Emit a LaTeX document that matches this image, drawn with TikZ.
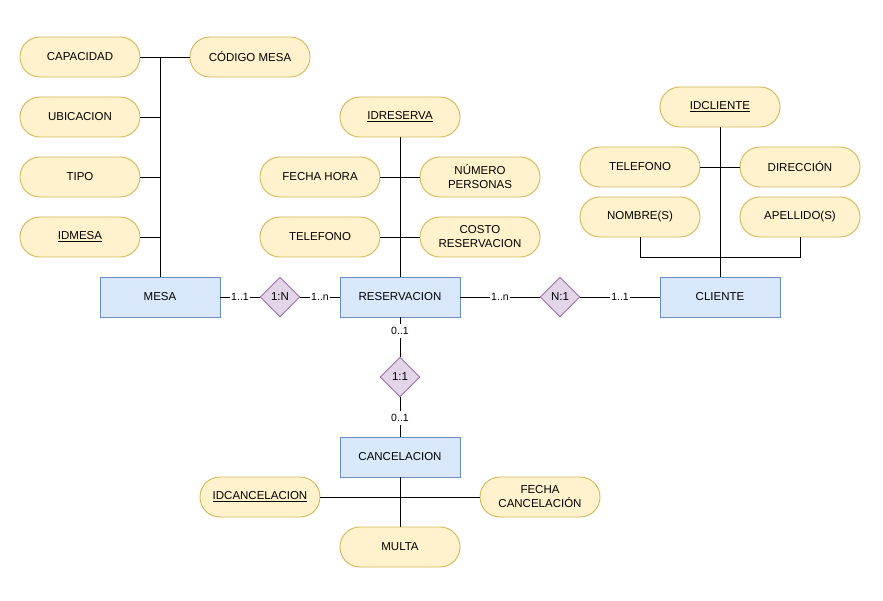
\documentclass[tikz,border=0pt]{standalone}
\usepackage{fontspec}
\setmainfont{Liberation Sans}
\usetikzlibrary{shapes.geometric}
\definecolor{attrfill}{HTML}{FFF2CC}
\definecolor{attrline}{HTML}{D6B656}
\definecolor{entfill}{HTML}{DAE8FC}
\definecolor{entline}{HTML}{6C8EBF}
\definecolor{relfill}{HTML}{E1D5E7}
\definecolor{relline}{HTML}{9673A6}
\tikzset{
  attr/.style={draw=attrline, fill=attrfill, rounded corners=19.9pt, minimum width=120pt, minimum height=40pt, inner sep=0pt, align=center, font=\fontsize{11.5}{14}\selectfont, line width=0.9pt},
  entity/.style={draw=entline, fill=entfill, minimum width=120pt, minimum height=40pt, inner sep=0pt, font=\fontsize{11.5}{14}\selectfont, line width=0.9pt},
  rel/.style={diamond, draw=relline, fill=relfill, minimum width=40pt, minimum height=40pt, inner sep=0pt, aspect=1, font=\fontsize{11.5}{14}\selectfont, line width=0.9pt},
  lbl/.style={fill=white, inner sep=1pt, font=\fontsize{10.5}{12}\selectfont},
  link/.style={draw=black, line width=0.9pt},
}
\begin{document}
\begin{tikzpicture}[x=1pt, y=-1pt]
\useasboundingbox (0,0) rectangle (883,601);
% Entities
\node[entity] (mesa) at (160,297) {MESA};
\node[entity] (reserv) at (400,297) {RESERVACION};
\node[entity] (cliente) at (720,297) {CLIENTE};
\node[entity] (cancel) at (400,457) {CANCELACION};
% Relationships
\node[rel] (r1) at (280,297) {1:N};
\node[rel] (r2) at (560,297) {N:1};
\node[rel] (r3) at (400,377) {1:1};
% MESA attributes
\node[attr] (capacidad) at (80,57) {CAPACIDAD};
\node[attr] (codmesa) at (250,57) {CÓDIGO MESA};
\node[attr] (ubicacion) at (80,117) {UBICACION};
\node[attr] (tipo) at (80,177) {TIPO};
\node[attr] (idmesa) at (80,237) {\underline{IDMESA}};
% RESERVACION attributes
\node[attr] (idreserva) at (400,117) {\underline{IDRESERVA}};
\node[attr] (fechahora) at (320,177) {FECHA HORA};
\node[attr] (numpers) at (480,177) {NÚMERO\\PERSONAS};
\node[attr] (telres) at (320,237) {TELEFONO};
\node[attr] (costo) at (480,237) {COSTO\\RESERVACION};
% CLIENTE attributes
\node[attr] (idcliente) at (720,107) {\underline{IDCLIENTE}};
\node[attr] (telcli) at (640,167) {TELEFONO};
\node[attr] (direccion) at (800,167) {DIRECCIÓN};
\node[attr] (nombre) at (640,217) {NOMBRE(S)};
\node[attr] (apellido) at (800,217) {APELLIDO(S)};
% CANCELACION attributes
\node[attr] (idcancel) at (260,497) {\underline{IDCANCELACION}};
\node[attr] (fechacan) at (540,497) {FECHA\\CANCELACIÓN};
\node[attr] (multa) at (400,547) {MULTA};

% MESA attribute tree
\draw[link] (mesa.north) -- (mesa.north |- codmesa.west) -- (codmesa.west);
\draw[link] (capacidad.east) -- (capacidad.east -| mesa.north);
\draw[link] (ubicacion.east) -- (ubicacion.east -| mesa.north);
\draw[link] (tipo.east) -- (tipo.east -| mesa.north);
\draw[link] (idmesa.east) -- (idmesa.east -| mesa.north);
% RESERVACION attribute tree
\draw[link] (idreserva.south) -- (reserv.north);
\draw[link] (fechahora.east) -- (numpers.west);
\draw[link] (telres.east) -- (costo.west);
% CLIENTE attribute tree
\draw[link] (idcliente.south) -- (cliente.north);
\draw[link] (telcli.east) -- (direccion.west);
\draw[link] (nombre.south) -- ++(0,20) -| (apellido.south);
% CANCELACION attribute tree
\draw[link] (cancel.south) -- (multa.north);
\draw[link] (idcancel.east) -- (fechacan.west);

% Relationship links with cardinalities
\draw[link] (mesa.east) -- node[lbl] {1..1} (r1.west);
\draw[link] (r1.east) -- node[lbl] {1..n} (reserv.west);
\draw[link] (reserv.east) -- node[lbl] {1..n} (r2.west);
\draw[link] (r2.east) -- node[lbl] {1..1} (cliente.west);
\draw[link] (reserv.south) -- node[lbl, pos=0.35, inner ysep=3pt] {0..1} (r3.north);
\draw[link] (r3.south) -- node[lbl, pos=0.52, inner ysep=3pt] {0..1} (cancel.north);
\end{tikzpicture}
\end{document}
